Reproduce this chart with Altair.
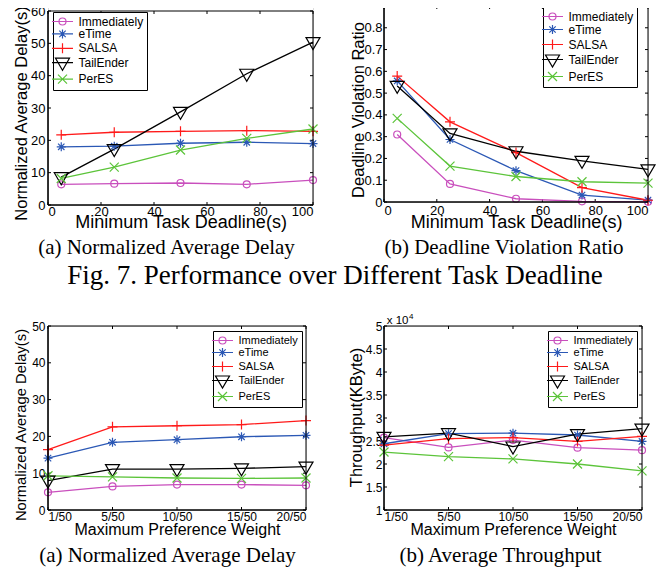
import altair as alt
import pandas as pd

# ---------------- data ----------------
series = ["Immediately", "eTime", "SALSA", "TailEnder", "PerES"]
colors = ["#c94fbd", "#2b58b5", "#ff1a1a", "#000000", "#5cc43a"]

deadline = [5, 25, 50, 75, 100]
delay_immediately = [6.4, 6.6, 6.8, 6.4, 7.7]
delay_etime = [18.0, 18.2, 19.1, 19.4, 19.0]
delay_salsa = [21.7, 22.5, 22.8, 23.0, 22.8]
delay_tailender = [8.6, 17.3, 28.8, 40.6, 50.4]
delay_peres = [8.2, 11.7, 17.0, 20.6, 23.5]

ratio_immediately = [0.31, 0.083, 0.015, 0.003, 0.001]
ratio_etime = [0.556, 0.287, 0.144, 0.032, 0.009]
ratio_salsa = [0.578, 0.368, 0.227, 0.066, 0.008]
ratio_tailender = [0.533, 0.315, 0.233, 0.189, 0.150]
ratio_peres = [0.384, 0.165, 0.117, 0.093, 0.087]

weight_labels = ["1/50", "5/50", "10/50", "15/50", "20/50"]
wdelay_immediately = [4.8, 6.4, 6.9, 6.9, 6.7]
wdelay_etime = [14.1, 18.4, 19.1, 19.9, 20.3]
wdelay_salsa = [16.4, 22.6, 22.9, 23.2, 24.3]
wdelay_tailender = [8.0, 11.1, 11.1, 11.3, 11.8]
wdelay_peres = [9.3, 9.0, 8.7, 8.6, 8.7]

# throughput in units of 10^4 KByte
thr_immediately = [2.575, 2.36, 2.52, 2.355, 2.30]
thr_etime = [2.44, 2.66, 2.67, 2.63, 2.49]
thr_salsa = [2.41, 2.55, 2.575, 2.49, 2.60]
thr_tailender = [2.59, 2.67, 2.38, 2.65, 2.77]
thr_peres = [2.26, 2.16, 2.11, 2.0, 1.85]

deadline_ticks = [0, 20, 40, 60, 80, 100]
delay_ticks = [0, 10, 20, 30, 40, 50, 60]
ratio_ticks = [0, 0.1, 0.2, 0.3, 0.4, 0.5, 0.6, 0.7, 0.8]
wdelay_ticks = [0, 10, 20, 30, 40, 50]
thr_ticks = [1, 1.5, 2, 2.5, 3, 3.5, 4, 4.5, 5]

captions = ["(a) Normalized Average Delay", "(b) Deadline Violation Ratio",
            "(a) Normalized Average Delay", "(b) Average Throughput"]
fig_caption = ["Fig. 7. Performance over Different Task Deadline"]
exp_text = ["x 10"]
exp_power = ["4"]

# ---------------- marker shapes ----------------
marker_paths = [
    "M-0.7,0A0.7,0.7 0 1,0 0.7,0A0.7,0.7 0 1,0 -0.7,0Z",
    "M-0.9,0H0.9M0,-0.9V0.9M-0.64,-0.64L0.64,0.64M-0.64,0.64L0.64,-0.64",
    "M-1,0H1M0,-1V1",
    "M-1.4,-0.9L1.4,-0.9L0,1.5Z",
    "M-0.9,-0.9L0.9,0.9M-0.9,0.9L0.9,-0.9",
]
legend_paths = ["M-2.1,0H2.1" + p for p in marker_paths]

SANS = "Liberation Sans"
SERIF = "Liberation Serif"
TICK = 3


def long_df(xs, cols):
    rows = []
    for name, vals in zip(series, cols):
        for x, v in zip(xs, vals):
            rows.append({"x": x, "series": name, "value": v})
    return pd.DataFrame(rows)


def text_layer(values, x, y, font, size, align="center"):
    return alt.Chart(pd.DataFrame({"t": values})).mark_text(
        font=font, fontSize=size, baseline="alphabetic", align=align, color="black").encode(
        text="t:N", x=alt.value(x), y=alt.value(y))


def panel(df, width, height, xdom, ydom, ytop, top_px, xticks, yticks, xaxis, yaxis, leg,
          extras=()):
    xs = alt.Scale(domain=xdom, nice=False, zero=False)
    ys = alt.Scale(domain=ydom, nice=False, zero=False)
    X = alt.X("x:Q", scale=xs, axis=xaxis)
    Y = alt.Y("value:Q", scale=ys, axis=yaxis)
    col = alt.Color("series:N", scale=alt.Scale(domain=series, range=colors), legend=None)
    lines = alt.Chart(df).mark_line(strokeWidth=1.3).encode(x=X, y=Y, color=col)
    points = alt.Chart(df).mark_point(filled=False, opacity=1, size=100, strokeWidth=1.2).encode(
        x=X, y=Y, color=col,
        shape=alt.Shape("series:N", scale=alt.Scale(domain=series, range=marker_paths), legend=None))
    heavy = pd.DataFrame({"fx": [xdom[0], xdom[0]], "fx2": [xdom[0], xdom[1]],
                          "fy": [ydom[0], ydom[0]], "fy2": [ytop, ydom[0]]})
    light = pd.DataFrame({"fx": [xdom[0], xdom[1]], "fx2": [xdom[1], xdom[1]],
                          "fy": [ytop, ydom[0]], "fy2": [ytop, ytop]})
    FX = alt.X("fx:Q", scale=xs, axis=xaxis)
    FY = alt.Y("fy:Q", scale=ys, axis=yaxis)
    frame1 = alt.Chart(heavy).mark_rule(color="black", strokeWidth=1.6).encode(
        x=FX, x2="fx2:Q", y=FY, y2="fy2:Q")
    frame2 = alt.Chart(light).mark_rule(color="black", strokeWidth=1.0).encode(
        x=FX, x2="fx2:Q", y=FY, y2="fy2:Q")
    # inward tick marks on all four sides
    xt = alt.Chart(pd.DataFrame({"x": xticks}))
    yt = alt.Chart(pd.DataFrame({"value": yticks}))
    TX = alt.X("x:Q", scale=xs, axis=xaxis)
    TY = alt.Y("value:Q", scale=ys, axis=yaxis)
    tick_layers = [
        xt.mark_rule(color="black", strokeWidth=1).encode(
            x=TX, y=alt.value(height), y2=alt.value(height - TICK)),
        xt.mark_rule(color="black", strokeWidth=1).encode(
            x=TX, y=alt.value(top_px), y2=alt.value(top_px + TICK)),
        yt.mark_rule(color="black", strokeWidth=1).encode(
            y=TY, x=alt.value(0), x2=alt.value(TICK)),
        yt.mark_rule(color="black", strokeWidth=1).encode(
            y=TY, x=alt.value(width), x2=alt.value(width - TICK)),
    ]
    legend_layer = alt.Chart(df).transform_filter("false").mark_point(
        filled=False, opacity=1, size=100, strokeWidth=1.2).encode(
        color=alt.Color("series:N", scale=alt.Scale(domain=series, range=colors), legend=leg),
        shape=alt.Shape("series:N", scale=alt.Scale(domain=series, range=legend_paths), legend=leg))
    return alt.layer(*tick_layers, lines, points, frame1, frame2, legend_layer, *extras).resolve_scale(
        color="independent", shape="independent").properties(width=width, height=height)


def legend(x, y, fs, rowpad):
    return alt.Legend(title=None, orient="none", legendX=x, legendY=y, padding=3.5,
                      strokeColor="black", fillColor="white", labelFont=SANS,
                      labelFontSize=fs, labelColor="black", symbolSize=100,
                      symbolStrokeWidth=1.2, symbolFillColor="transparent",
                      symbolOpacity=1, labelOffset=10, rowPadding=rowpad)


def axis(**kw):
    return alt.Axis(ticks=False, tickSize=0, domain=False, grid=False,
                    labelColor="black", titleColor="black",
                    labelFont=SANS, titleFont=SANS, titleFontWeight="normal",
                    titleBaseline="alphabetic", **kw)


# invisible layout anchor: fixes the left edge of the whole figure 40px left of panel (a)
anchor = alt.Chart(pd.DataFrame({"t": [0]})).mark_rule(strokeOpacity=0, strokeWidth=1).encode(
    x=alt.value(-39.5), x2=alt.value(-39.5), y=alt.value(100), y2=alt.value(101))

# ---------------- panel 1 ----------------
df1 = long_df(deadline, [delay_immediately, delay_etime, delay_salsa, delay_tailender, delay_peres])
h1 = 199
y1top = 60
p1 = panel(
    df1, 265, h1, [0, 100], [0, y1top * h1 / 194], y1top, h1 - 194, deadline_ticks, delay_ticks,
    axis(values=deadline_ticks, labelFontSize=13, labelPadding=10.7,
         labelBaseline="alphabetic", title="Minimum Task Deadline(s)", titleFontSize=18,
         titleY=22.5),
    axis(values=delay_ticks, labelFontSize=13, labelPadding=3,
         title="Normalized Average Delay(s)", titleFontSize=16.5, titleX=-21.5, titleY=107),
    legend(5, 6, 12, -0.6),
    extras=[text_layer(captions[:1], 118.5, 247.9, SERIF, 21), anchor])

# ---------------- panel 2 ----------------
df2 = long_df(deadline, [ratio_immediately, ratio_etime, ratio_salsa, ratio_tailender, ratio_peres])
p2 = panel(
    df2, 264, 196, [0, 100], [0, 0.9], 0.9, 0, deadline_ticks, ratio_ticks,
    axis(values=deadline_ticks, labelFontSize=13, labelPadding=12.7,
         labelBaseline="alphabetic", title="Minimum Task Deadline(s)", titleFontSize=18,
         titleY=25.5),
    axis(values=ratio_ticks, format="~g", labelFontSize=13,
         labelPadding=2, title="Deadline Violation Ratio", titleFontSize=16.5, titleX=-20.5,
         titleY=103.5),
    legend(159, 1, 12, 0),
    extras=[text_layer(captions[1:2], 120, 247.9, SERIF, 21)])

# ---------------- panel 3 ----------------
widx = list(range(1, len(weight_labels) + 1))
label_expr = "[" + ",".join("'" + s + "'" for s in weight_labels) + "][datum.value - 1]"
df3 = long_df(widx, [wdelay_immediately, wdelay_etime, wdelay_salsa, wdelay_tailender, wdelay_peres])
p3 = panel(
    df3, 258, 184, [1, 5], [0, 50], 50, 0, widx, wdelay_ticks,
    axis(values=widx, labelExpr=label_expr, labelFontSize=12, labelPadding=10.3,
         labelBaseline="alphabetic", title="Maximum Preference Weight", titleFontSize=16,
         titleY=24.5),
    axis(values=wdelay_ticks, labelFontSize=12, labelPadding=3,
         title="Normalized Average Delay(s)", titleFontSize=14.8, titleX=-23, titleY=98.5),
    legend(165, 5, 11, -1),
    extras=[text_layer(captions[2:3], 119.5, 235.9, SERIF, 21),
            text_layer(fig_caption, 287, -42.4, SERIF, 27)])

# ---------------- panel 4 ----------------
df4 = long_df(widx, [thr_immediately, thr_etime, thr_salsa, thr_tailender, thr_peres])
p4 = panel(
    df4, 258, 184, [1, 5], [1, 5], 5, 0, widx, thr_ticks,
    axis(values=widx, labelExpr=label_expr, labelFontSize=12, labelPadding=10.3,
         labelBaseline="alphabetic", title="Maximum Preference Weight", titleFontSize=16,
         titleY=24.5),
    axis(values=thr_ticks, format="~g", labelFontSize=12,
         labelPadding=2, title="Throughput(KByte)", titleFontSize=16.5, titleX=-22.5,
         titleY=91),
    legend(164, 5, 11, -1),
    extras=[text_layer(captions[3:4], 116.5, 235.9, SERIF, 21),
            text_layer(exp_text, 2.7, -2, SANS, 11.5, "left"),
            text_layer(exp_power, 25, -7.5, SANS, 8, "left")])

chart = alt.concat(
    p1, p2, p3, p4, columns=2, spacing={"row": 121, "column": 71}, bounds="flush",
    padding={"left": 0, "top": -4, "right": 0, "bottom": 0},
).configure_view(stroke="transparent").configure(background="white")

chart.save("out.html", embed_options={"renderer": "svg", "actions": False})
